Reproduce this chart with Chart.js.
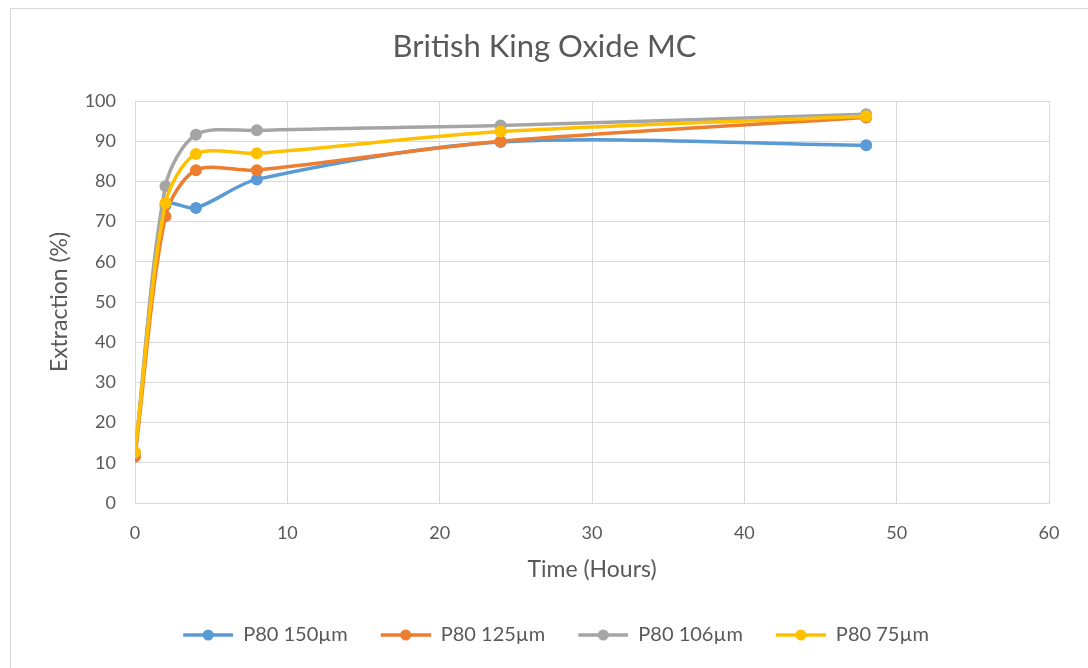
<!DOCTYPE html>
<html>
<head>
<meta charset="utf-8">
<script src="https://cdn.jsdelivr.net/npm/chart.js@4/dist/chart.umd.min.js"></script>
<style>
  html, body { margin: 0; padding: 0; background: #ffffff; overflow: hidden; }
  #wrap { position: relative; width: 1088px; height: 668px; }
  #frame { position: absolute; left: 10px; top: 8px; width: 1100px; height: 700px; border: 1px solid #d9d9d9; box-sizing: border-box; }
  canvas { position: absolute; left: 0; top: 0; }
</style>
</head>
<body>
<div id="wrap">
  <div id="frame"></div>
  <canvas id="c" width="1088" height="668"></canvas>
</div>
<script>
const chartTitle = "British King Oxide MC";
const xTitle = "Time (Hours)";
const yTitle = "Extraction (%)";
const timeHours = [0, 2, 4, 8, 24, 48];
const seriesNames = ["P80 150µm", "P80 125µm", "P80 106µm", "P80 75µm"];
const p80_150 = [12.0, 74.0, 73.4, 80.5, 89.8, 89.0];
const p80_125 = [11.5, 71.3, 82.8, 82.8, 90.0, 95.9];
const p80_106 = [12.5, 78.8, 91.6, 92.7, 93.9, 96.7];
const p80_75  = [12.7, 74.6, 86.8, 87.0, 92.4, 96.2];
const seriesColors = ["#5b9bd5", "#ed7d31", "#a5a5a5", "#ffc000"];
const yTicks = [0, 10, 20, 30, 40, 50, 60, 70, 80, 90, 100];
const xTicks = [0, 10, 20, 30, 40, 50, 60];

const textColor = "#595959";
const gridColor = "#d9d9d9";
const fontFamily = "Lato, 'Open Sans', sans-serif";

function legendImage(color) {
  const c = document.createElement("canvas");
  c.width = 73; c.height = 14;
  const g = c.getContext("2d");
  g.strokeStyle = color; g.lineWidth = 3.5; g.lineCap = "butt";
  g.beginPath(); g.moveTo(23, 7); g.lineTo(73, 7); g.stroke();
  g.fillStyle = color;
  g.beginPath(); g.arc(48, 7, 5.5, 0, Math.PI * 2); g.fill();
  return c;
}

const allValues = [p80_150, p80_125, p80_106, p80_75];
const datasets = allValues.map((vals, i) => ({
  label: seriesNames[i],
  data: timeHours.map((t, j) => ({ x: t, y: vals[j] })),
  borderColor: seriesColors[i],
  backgroundColor: seriesColors[i],
  borderWidth: 3.5,
  pointRadius: 5,
  pointBorderWidth: 2,
  pointBackgroundColor: seriesColors[i],
  pointBorderColor: seriesColors[i],
  tension: 0.3,
  fill: false,
  order: 4 - i,
  pointStyle: "circle",
  legendImg: legendImage(seriesColors[i])
}));

new Chart(document.getElementById("c"), {
  type: "line",
  data: { datasets },
  options: {
    responsive: false,
    animation: false,
    layout: { padding: { left: 40, right: 39, top: 0, bottom: 13 } },
    plugins: {
      tooltip: { enabled: false },
      title: {
        display: true,
        text: chartTitle,
        color: textColor,
        font: { family: fontFamily, size: 31, weight: "normal" },
        padding: { top: 28.4, bottom: 35.4 }
      },
      legend: {
        position: "bottom",
        labels: {
          color: textColor,
          font: { family: fontFamily, size: 20 },
          usePointStyle: true,
          pointStyleWidth: 73,
          padding: 10,
          sort: (a, b) => a.datasetIndex - b.datasetIndex,
          generateLabels: (chart) => chart.data.datasets.map((ds, i) => ({
            text: ds.label,
            fillStyle: ds.borderColor,
            strokeStyle: ds.borderColor,
            fontColor: textColor,
            lineWidth: 0,
            pointStyle: ds.legendImg,
            datasetIndex: i,
            hidden: false
          }))
        }
      }
    },
    scales: {
      x: {
        type: "linear",
        min: 0, max: 60,
        afterBuildTicks: (s) => { s.ticks = xTicks.map(v => ({ value: v })); },
        afterFit: (s) => { s.height = 112; },
        grid: { color: gridColor, lineWidth: 1, drawTicks: false },
        border: { color: gridColor, width: 1 },
        ticks: { color: textColor, font: { family: fontFamily, size: 18 }, padding: 19 },
        title: {
          display: true, text: xTitle, color: textColor,
          font: { family: fontFamily, size: 23 },
          padding: { top: 0, bottom: 31.2 }
        }
      },
      y: {
        type: "linear",
        min: 0, max: 100,
        afterBuildTicks: (s) => { s.ticks = yTicks.map(v => ({ value: v })); },
        afterFit: (s) => { s.width = 95; },
        grid: { color: gridColor, lineWidth: 1, drawTicks: false },
        border: { color: gridColor, width: 1 },
        ticks: { color: textColor, font: { family: fontFamily, size: 18 }, padding: 19 },
        title: {
          display: true, text: yTitle, color: textColor,
          font: { family: fontFamily, size: 23 },
          padding: { top: 6.2, bottom: 0 }
        }
      }
    }
  }
});
</script>
</body>
</html>
